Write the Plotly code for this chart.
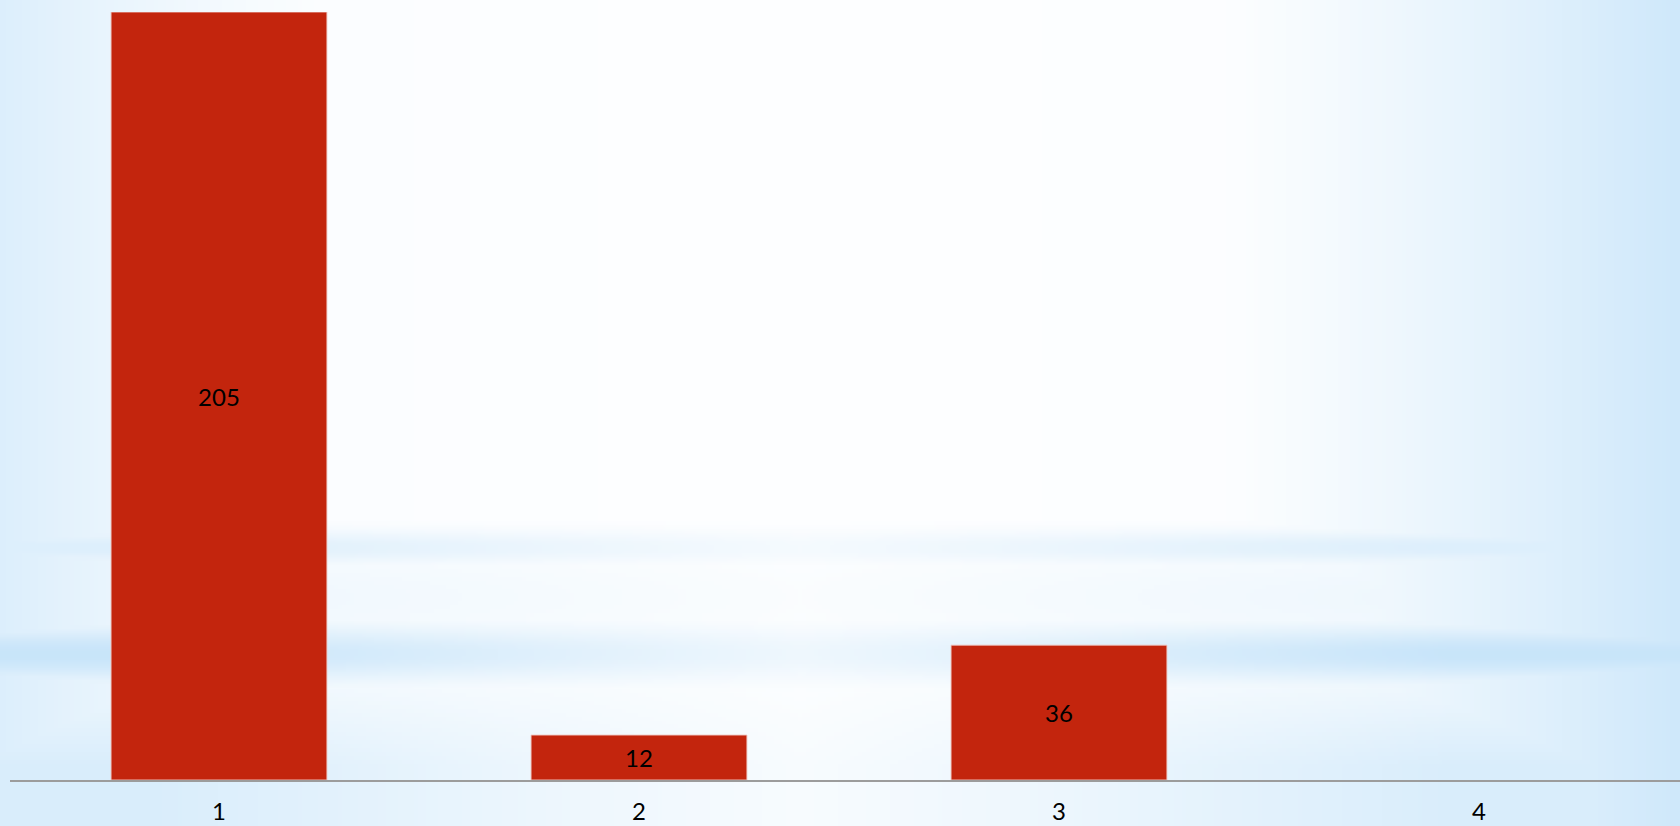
import base64, struct, zlib
import numpy as np
import plotly.graph_objects as go

# ---- data ----
categories = [1, 2, 3, 4]
tick_labels = ["1", "2", "3", "4"]
values = [205, 12, 36, 0]
value_labels = [str(v) if v else "" for v in values]

W, H = 1680, 826

# ---- soft blue background (style only) ----
def make_bg(w=420, h=207):
    ys = np.linspace(0, H, h)[:, None]
    xs = np.linspace(0, W, w)[None, :]
    ones = np.ones((h, w))
    base = (0.03 + 0.10 * ((xs - 820) / 900.0) ** 2) * ones
    left = np.clip(1 - xs / 420.0, 0, 1) ** 1.5 * 0.5
    right = np.clip((xs - 1150) / 530.0, 0, 1) ** 1.4 * 0.7
    edge = np.maximum(left, right) * ones
    hw = 0.3 + 0.7 * np.clip(np.abs(xs - 800) / 650.0, 0, 1)
    b1 = 0.5 * np.exp(-((ys - 548) / 18.0) ** 2) * hw
    b2 = 0.8 * np.exp(-((ys - 655) / 30.0) ** 2) * hw
    low = np.clip((ys - 620) / 150.0, 0, 1) * 0.55 * hw ** 1.3
    mid = 0.25 * np.exp(-((ys - 598) / 55.0) ** 2) * hw
    a = np.clip(np.maximum.reduce([base, edge, b1, b2, low, mid]), 0, 0.85)
    blue = np.array([186, 222, 248], dtype=float)
    white = np.array([255, 255, 255], dtype=float)
    img = white * (1 - a[..., None]) + blue * a[..., None]
    img = np.round(img).astype(np.uint8)
    raw = b"".join(b"\x00" + img[r].tobytes() for r in range(h))
    def chunk(t, d):
        c = struct.pack(">I", len(d)) + t + d
        return c + struct.pack(">I", zlib.crc32(t + d) & 0xffffffff)
    png = b"\x89PNG\r\n\x1a\n" + chunk(b"IHDR", struct.pack(">IIBBBBB", w, h, 8, 2, 0, 0, 0)) \
        + chunk(b"IDAT", zlib.compress(raw, 9)) + chunk(b"IEND", b"")
    return "data:image/png;base64," + base64.b64encode(png).decode()

T, B = 12, 46
PH = H - T - B

fig = go.Figure()
fig.add_trace(go.Bar(
    x=categories, y=values, text=value_labels,
    width=0.514,
    marker=dict(color="#c3250d",
                line=dict(color="rgba(240,200,195,0.9)", width=[1 if v else 0 for v in values])),
    textposition="inside", insidetextanchor="middle",
    textfont=dict(color="black", size=24, family="Lato"),
    textangle=0, cliponaxis=False, hoverinfo="skip",
))

fig.update_layout(
    width=W, height=H,
    margin=dict(l=10, r=0, t=T, b=B, autoexpand=False),
    paper_bgcolor="white", plot_bgcolor="rgba(0,0,0,0)",
    showlegend=False,
    images=[dict(source=make_bg(), xref="paper", yref="paper", x=-10/1670, y=1 + T/PH,
                 sizex=W/1670, sizey=H/PH, xanchor="left", yanchor="top",
                 sizing="stretch", layer="below")],
    xaxis=dict(range=[1 - 0.4976, 4.4786], tickvals=categories, ticktext=tick_labels,
               automargin=False,
               showgrid=False, zeroline=False, showline=True, linecolor="#9c9c9c", linewidth=1.5,
               ticks="", tickfont=dict(size=24, color="black", family="Lato"), ticklabelstandoff=9),
    yaxis=dict(range=[0, 205], visible=False, showgrid=False, automargin=False),
)

fig.write_html("out.html", config={"displayModeBar": False},
               post_script="document.body.style.margin='0';document.body.style.overflow='hidden';")
